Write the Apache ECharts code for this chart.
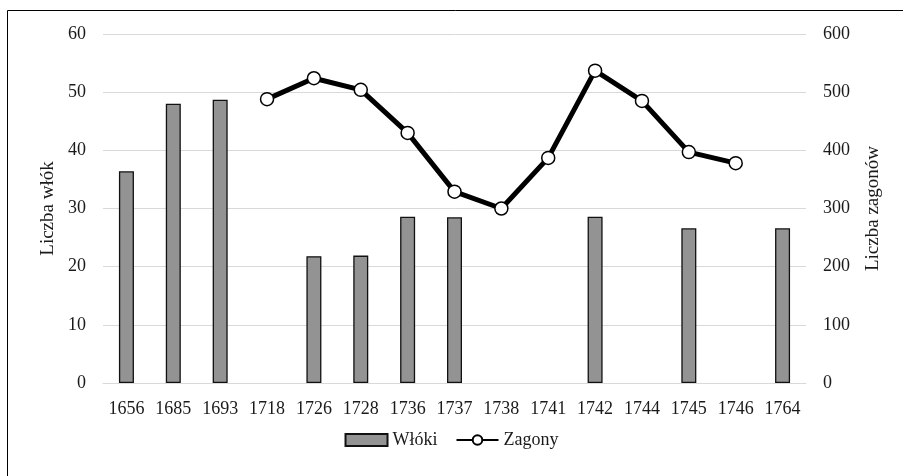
<!DOCTYPE html>
<html>
<head>
<meta charset="utf-8">
<script src="https://cdn.jsdelivr.net/npm/echarts@6/dist/echarts.min.js"></script>
<style>
  html, body { margin: 0; padding: 0; background: #fff; }
  #chart { width: 903px; height: 476px; }
</style>
</head>
<body>
<div id="chart"></div>
<script>
const years = ['1656', '1685', '1693', '1718', '1726', '1728', '1736', '1737', '1738', '1741', '1742', '1744', '1745', '1746', '1764'];
const wloki = [36.4, 48.0, 48.7, null, 21.8, 21.9, 28.6, 28.5, null, null, 28.6, null, 26.6, null, 26.6];
const zagony = [null, null, null, 488, 524, 504, 430, 329, 300, 387, 537, 485, 397, 378, null];

const font = 'Liberation Serif';
const txt = '#1a1a1a';
const chart = echarts.init(document.getElementById('chart'));

chart.setOption({
  animation: false,
  textStyle: { fontFamily: font, color: txt },
  graphic: [{
    type: 'rect',
    shape: { x: 7.5, y: 10.5, width: 920, height: 490 },
    style: { fill: 'none', stroke: '#000', lineWidth: 1 }
  }],
  grid: { left: 103, right: 97, top: 34, bottom: 93 },
  legend: {
    bottom: 22,
    left: 'center',
    itemGap: 18,
    textStyle: { fontFamily: font, fontSize: 18, color: txt },
    data: [
      { name: 'Włóki', icon: 'rect' },
      { name: 'Zagony' }
    ],
    itemWidth: 42,
    itemHeight: 12
  },
  xAxis: {
    type: 'category',
    data: years,
    axisLine: { lineStyle: { color: '#d9d9d9', width: 1 } },
    axisTick: { show: false },
    axisLabel: { color: txt, fontSize: 18, fontFamily: font, margin: 17, interval: 0 }
  },
  yAxis: [
    {
      type: 'value',
      min: 0, max: 60, interval: 10,
      name: 'Liczba włók',
      nameLocation: 'middle',
      nameGap: 38,
      nameTextStyle: { fontSize: 19, fontFamily: font, color: txt },
      axisLabel: { color: txt, fontSize: 18, fontFamily: font, margin: 17 },
      splitLine: { lineStyle: { color: '#d9d9d9', width: 1 } }
    },
    {
      type: 'value',
      min: 0, max: 600, interval: 100,
      name: 'Liczba zagonów',
      nameLocation: 'middle',
      nameGap: 58,
      nameRotate: 90,
      nameTextStyle: { fontSize: 19, fontFamily: font, color: txt },
      axisLabel: { color: txt, fontSize: 18, fontFamily: font, margin: 17 },
      splitLine: { show: false }
    }
  ],
  series: [
    {
      name: 'Włóki',
      type: 'bar',
      data: wloki,
      barWidth: 15,
      itemStyle: { color: '#939393', borderColor: '#111', borderWidth: 1.3 }
    },
    {
      name: 'Zagony',
      type: 'line',
      yAxisIndex: 1,
      data: zagony,
      symbol: 'circle',
      symbolSize: 13,
      lineStyle: { color: '#000', width: 5 },
      itemStyle: { color: '#fff', borderColor: '#000', borderWidth: 1.5 }
    }
  ]
});
</script>
</body>
</html>
